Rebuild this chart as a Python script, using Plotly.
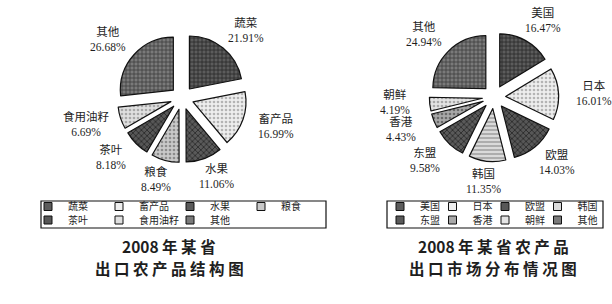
import math
import plotly.graph_objects as go

# ---------------- data ----------------
crop_labels = ["蔬菜", "畜产品", "水果", "粮食", "茶叶", "食用油籽", "其他"]
crop_shares = [21.91, 16.99, 11.06, 8.49, 8.18, 6.69, 26.68]

market_labels = ["美国", "日本", "欧盟", "韩国", "东盟", "香港", "朝鲜", "其他"]
market_shares = [16.47, 16.01, 14.03, 11.35, 9.58, 4.43, 4.19, 24.94]

title_left = ["2008 年 某 省", "出 口 农 产 品 结 构 图"]
title_right = ["2008 年 某 省 农 产 品", "出 口 市 场 分 布 情 况 图"]

# legend row (0 = first row, 1 = second row)
crop_legend_row = [0, 0, 0, 0, 1, 1, 1]
market_legend_row = [0, 0, 0, 0, 1, 1, 1, 1]

# ---------------- styles ----------------
crop_bg = ["#5c5c5c", "#eeeeee", "#5a5a5a", "#c9c9c9", "#575757", "#e0e0e0", "#7a7a7a"]
crop_fg = ["#262626", "#b4b4b4", "#262626", "#8c8c8c", "#242424", "#a8a8a8", "#3a3a3a"]
crop_shape = ["+", ".", "x", ".", "x", ".", "+"]

market_bg = ["#5c5c5c", "#eeeeee", "#575757", "#dadada", "#5a5a5a", "#a8a8a8", "#e4e4e4", "#7a7a7a"]
market_fg = ["#262626", "#b4b4b4", "#242424", "#9a9a9a", "#262626", "#6a6a6a", "#a8a8a8", "#3a3a3a"]
market_shape = ["+", ".", "x", "-", "x", ".", ".", "+"]

W, H = 612, 304
ink = "#1e1e1e"
label_font = dict(family="Liberation Serif, Noto Sans CJK SC", size=11.5, color=ink)
legend_font = dict(family="Noto Sans CJK SC, Liberation Serif", size=10, color=ink)
PULL = 0.22
R = 53                           # pie radius in px
LAB_A = 100                      # horizontal label distance from centre
LAB_B_TOP, LAB_B_BOT = 88, 84    # vertical label distance (upper / lower half)
LAB_H, LAB_W = 31, 34            # approximate label box used to keep labels apart


def px_dom(cx, cy):
    half = R * (1 + PULL)
    return dict(x=[(cx - half) / W, (cx + half) / W], y=[1 - (cy + half) / H, 1 - (cy - half) / H])


fig = go.Figure()


def add_pie(labels, values, bg, fg, shapes, cx, cy):
    fig.add_trace(go.Pie(
        labels=labels, values=values, sort=False, direction="clockwise", rotation=0,
        pull=PULL, domain=px_dom(cx, cy), showlegend=False,
        marker=dict(colors=bg, line=dict(color="#111111", width=1.2),
                    pattern=dict(shape=shapes, fgcolor=fg, bgcolor=bg, size=4, solidity=0.35)),
        textinfo="none", hoverinfo="skip",
    ))
    # slice labels placed around the pie at each slice's mid-angle
    total = sum(values)
    cum = 0.0
    pos = []
    for v in values:
        theta = 2 * math.pi * (cum + v / 2) / total
        cum += v
        c = math.cos(theta)
        b = LAB_B_TOP if c > 0 else LAB_B_BOT
        pos.append([cx + LAB_A * math.sin(theta), cy - b * c])
    # push apart labels that would collide
    order = sorted(range(len(pos)), key=lambda i: pos[i][1])
    for a, b in zip(order, order[1:]):
        if abs(pos[a][0] - pos[b][0]) < LAB_W and pos[b][1] - pos[a][1] < LAB_H:
            shift = (LAB_H - (pos[b][1] - pos[a][1])) / 2
            pos[a][1] -= shift
            pos[b][1] += shift
    for lab, v, (x, y) in zip(labels, values, pos):
        fig.add_annotation(text=f"{lab}<br>{v:.2f}%", x=x / W, y=1 - y / H, xref="paper", yref="paper",
                           xanchor="center", yanchor="middle", showarrow=False, font=label_font,
                           align="center")


add_pie(crop_labels, crop_shares, crop_bg, crop_fg, crop_shape, 182, 98)
add_pie(market_labels, market_shares, market_bg, market_fg, market_shape, 494, 97)


def add_legend_entries(labels, bg, rows, legend_ids):
    for i, lab in enumerate(labels):
        fig.add_trace(go.Scatter(
            x=[None], y=[None], name=lab, legend=legend_ids[rows[i]], mode="markers",
            marker=dict(symbol="square", size=8, color=bg[i], line=dict(color="#111111", width=1)),
            hoverinfo="skip",
        ))


add_legend_entries(crop_labels, crop_bg, crop_legend_row, ["legend", "legend2"])
add_legend_entries(market_labels, market_bg, market_legend_row, ["legend3", "legend4"])


def leg(x, y, ew):
    return dict(orientation="h", traceorder="normal", borderwidth=0, bgcolor="rgba(255,255,255,0)",
                font=legend_font, indentation=-15, entrywidth=ew, entrywidthmode="pixels",
                itemsizing="trace", xanchor="left", yanchor="top", x=x / W, y=1 - y / H)


fig.update_layout(
    width=W, height=H, margin=dict(l=0, r=0, t=0, b=0),
    paper_bgcolor="white", plot_bgcolor="white",
    xaxis=dict(visible=False), yaxis=dict(visible=False),
    legend=leg(43, 192, 41), legend2=leg(43, 205.5, 41),
    legend3=leg(395, 192, 22.5), legend4=leg(395, 205.5, 22.5),
)

# legend frames
for x0, x1 in ((41, 326), (387, 603)):
    fig.add_shape(type="rect", xref="paper", yref="paper", x0=x0 / W, x1=x1 / W,
                  y0=1 - 228 / H, y1=1 - 201 / H, line=dict(color="#111111", width=1.2))

title_font = dict(family="Noto Sans CJK SC", size=15.5, color=ink, weight="bold")
for cx, lines in ((169, title_left), (493, title_right)):
    for j, txt in enumerate(lines):
        fig.add_annotation(text=txt, x=cx / W, y=1 - (245.5 + 22 * j) / H, xref="paper", yref="paper",
                           xanchor="center", yanchor="middle", showarrow=False, font=title_font)

fig.write_html("out.html")
